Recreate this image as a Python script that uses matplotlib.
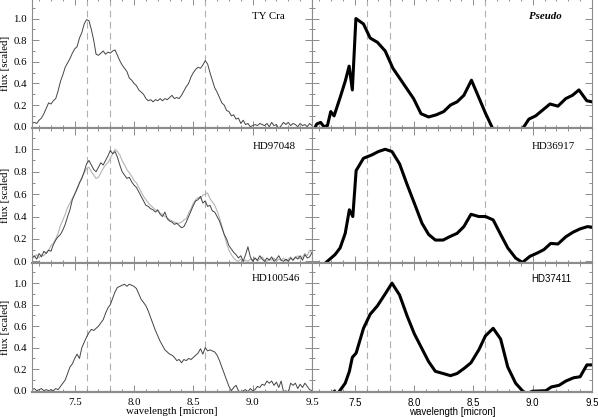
# six spectra panels: observed (left) vs pseudo/model (right)
import numpy as np
import matplotlib
matplotlib.use('agg')
import matplotlib.pyplot as plt
from matplotlib.ticker import MultipleLocator

# left column: observed spectra on a 0.02 micron grid starting at 7.14
x0_left = 7.14
dx_left = 0.02

tycra = [0.03, 0.04, 0.03, 0.06, 0.08, 0.12, 0.17, 0.22, 0.21, 0.24,
         0.26, 0.33, 0.42, 0.48, 0.55, 0.59, 0.63, 0.68, 0.72, 0.74,
         0.82, 0.87, 0.95, 0.99, 0.98, 0.90, 0.80, 0.67, 0.66, 0.68,
         0.70, 0.67, 0.69, 0.68, 0.70, 0.71, 0.66, 0.61, 0.57, 0.54,
         0.51, 0.45, 0.43, 0.40, 0.38, 0.34, 0.32, 0.30, 0.26, 0.24,
         0.25, 0.23, 0.25, 0.24, 0.26, 0.24, 0.26, 0.25, 0.27, 0.29,
         0.26, 0.27, 0.26, 0.29, 0.33, 0.37, 0.40, 0.46, 0.50, 0.53,
         0.55, 0.54, 0.57, 0.61, 0.58, 0.50, 0.43, 0.36, 0.32, 0.27,
         0.22, 0.20, 0.15, 0.14, 0.10, 0.11, 0.07, 0.08, 0.03, 0.06,
         0.02, 0.03, 0.00, 0.01, 0.02, 0.01, 0.03, 0.02, 0.01, 0.03,
         0.00, 0.04, 0.01, 0.02, -0.02, 0.01, 0.04, 0.02, 0.04, 0.01,
         0.03, 0.02, 0.00, 0.03, 0.01, 0.02, 0.00, 0.03, 0.01]

hd97048 = [0.03, 0.05, 0.02, 0.07, 0.04, 0.09, 0.07, 0.10, 0.09, 0.15,
           0.19, 0.22, 0.24, 0.28, 0.33, 0.40, 0.46, 0.55, 0.60, 0.65,
           0.70, 0.74, 0.80, 0.87, 0.90, 0.86, 0.82, 0.80, 0.84, 0.88,
           0.86, 0.90, 0.94, 0.99, 0.96, 0.98, 0.93, 0.86, 0.80, 0.77,
           0.74, 0.75, 0.71, 0.68, 0.66, 0.62, 0.58, 0.54, 0.50, 0.49,
           0.47, 0.46, 0.44, 0.46, 0.42, 0.40, 0.44, 0.38, 0.36, 0.35,
           0.33, 0.34, 0.32, 0.30, 0.31, 0.35, 0.40, 0.45, 0.50, 0.54,
           0.55, 0.58, 0.52, 0.54, 0.49, 0.50, 0.45, 0.44, 0.40, 0.36,
           0.30, 0.24, 0.20, 0.14, 0.11, 0.08, 0.06, 0.03, 0.05, 0.00,
           0.06, 0.13, 0.04, 0.00, 0.03, 0.01, 0.05, 0.02, 0.00, 0.03,
           0.01, 0.04, 0.00, 0.02, 0.05, 0.01, 0.00, 0.02, 0.00, 0.03,
           0.01, 0.04, 0.02, 0.05, 0.01, 0.06, 0.03, 0.04, 0.08]

hd97048_b = [0.02, 0.04, 0.06, 0.03, 0.06, 0.05, 0.08, 0.10, 0.14, 0.16,
             0.20, 0.25, 0.32, 0.37, 0.42, 0.48, 0.52, 0.56, 0.60, 0.64,
             0.70, 0.75, 0.79, 0.83, 0.84, 0.80, 0.77, 0.74, 0.75, 0.79,
             0.83, 0.86, 0.88, 0.92, 0.96, 1.00, 0.98, 0.95, 0.90, 0.86,
             0.82, 0.79, 0.76, 0.72, 0.70, 0.66, 0.62, 0.58, 0.55, 0.52,
             0.50, 0.48, 0.46, 0.45, 0.43, 0.42, 0.40, 0.39, 0.37, 0.36,
             0.35, 0.34, 0.34, 0.35, 0.37, 0.38, 0.43, 0.47, 0.52, 0.55,
             0.57, 0.56, 0.59, 0.60, 0.61, 0.56, 0.53, 0.50, 0.45, 0.39,
             0.32, 0.24, 0.16, 0.10, 0.06, 0.03, 0.01, 0.00, 0.02, 0.00,
             0.01, 0.00, 0.02, 0.01, 0.03, 0.00, 0.02, 0.04, 0.01, 0.00,
             0.02, 0.01, 0.03, 0.00, 0.02, 0.01, 0.03, 0.00, 0.02, 0.04,
             0.01, 0.03, 0.05, 0.02, 0.04, 0.07, 0.05, 0.10, 0.07]

hd100546 = [0.01, 0.02, 0.00, 0.01, 0.02, 0.00, 0.01, 0.00, 0.01, 0.00,
            0.02, 0.01, 0.04, 0.07, 0.10, 0.16, 0.22, 0.25, 0.30, 0.34,
            0.30, 0.40, 0.45, 0.50, 0.54, 0.57, 0.56, 0.58, 0.60, 0.63,
            0.66, 0.72, 0.77, 0.80, 0.86, 0.92, 0.96, 0.97, 0.98, 0.99,
            0.97, 0.99, 0.98, 0.97, 0.95, 0.90, 0.85, 0.82, 0.79, 0.74,
            0.68, 0.62, 0.56, 0.51, 0.46, 0.42, 0.38, 0.36, 0.34, 0.33,
            0.31, 0.28, 0.29, 0.26, 0.29, 0.28, 0.30, 0.29, 0.31, 0.33,
            0.35, 0.39, 0.34, 0.40, 0.37, 0.38, 0.37, 0.36, 0.33, 0.28,
            0.22, 0.16, 0.10, 0.04, 0.00, 0.03, 0.05, 0.00, -0.02, 0.00,
            0.01, -0.01, 0.02, 0.00, 0.01, 0.04, 0.03, 0.06, 0.05, 0.09,
            0.07, 0.09, 0.05, 0.08, 0.03, 0.09, -0.01, 0.00, -0.02, 0.07,
            0.05, 0.07, 0.02, 0.06, 0.03, 0.07, 0.04, 0.01, 0.00]

# right column: model spectra
wl_pseudo = [7.165, 7.18, 7.213, 7.24, 7.27, 7.298, 7.326, 7.377, 7.42, 7.453,
             7.48, 7.51, 7.574, 7.63, 7.692, 7.757, 7.822, 7.878, 7.94, 7.996,
             8.059, 8.123, 8.188, 8.25, 8.307, 8.363, 8.42, 8.484, 8.546, 8.602,
             8.66, 8.72, 8.86, 8.92, 8.968, 9.025, 9.08, 9.146, 9.213, 9.279,
             9.335, 9.39, 9.456, 9.5]
fl_pseudo = [-0.01, 0.025, 0.04, 0.0, 0.01, 0.14, 0.10, 0.27, 0.42, 0.56,
             0.34, 1.0, 0.95, 0.82, 0.78, 0.70, 0.54, 0.45, 0.35, 0.26,
             0.12, 0.09, 0.11, 0.14, 0.20, 0.23, 0.29, 0.43, 0.27, 0.125,
             -0.01, -0.15, -0.15, -0.01, 0.07, 0.10, 0.15, 0.21, 0.19, 0.26,
             0.29, 0.34, 0.24, 0.23]

wl_36917 = [7.258, 7.334, 7.377, 7.42, 7.455, 7.484, 7.512, 7.574, 7.645, 7.70,
            7.757, 7.814, 7.878, 7.94, 8.002, 8.067, 8.123, 8.18, 8.245, 8.30,
            8.363, 8.42, 8.48, 8.546, 8.602, 8.667, 8.73, 8.79, 8.856, 8.913,
            8.977, 9.04, 9.095, 9.152, 9.213, 9.28, 9.34, 9.40, 9.462, 9.5]
fl_36917 = [-0.01, 0.06, 0.12, 0.25, 0.46, 0.40, 0.81, 0.92, 0.95, 0.98,
            1.0, 0.98, 0.87, 0.69, 0.52, 0.34, 0.24, 0.19, 0.19, 0.22,
            0.25, 0.31, 0.42, 0.40, 0.40, 0.37, 0.24, 0.12, 0.03, -0.01,
            0.045, 0.075, 0.105, 0.16, 0.155, 0.22, 0.26, 0.29, 0.31, 0.305]

wl_37411 = [7.33, 7.35, 7.371, 7.42, 7.455, 7.48, 7.512, 7.574, 7.63, 7.692,
            7.757, 7.814, 7.878, 7.94, 8.002, 8.067, 8.123, 8.18, 8.245, 8.307,
            8.363, 8.425, 8.48, 8.546, 8.602, 8.667, 8.73, 8.79, 8.856, 8.913,
            8.95, 8.997, 9.11, 9.158, 9.222, 9.28, 9.344, 9.40, 9.457, 9.5]
fl_37411 = [-0.005, -0.04, -0.005, 0.07, 0.18, 0.31, 0.35, 0.58, 0.71, 0.79,
            0.90, 1.0, 0.89, 0.70, 0.53, 0.39, 0.27, 0.18, 0.16, 0.14,
            0.16, 0.21, 0.26, 0.38, 0.51, 0.58, 0.48, 0.22, 0.07, 0.0,
            -0.03, -0.005, 0.0, 0.035, 0.05, 0.09, 0.12, 0.13, 0.24, 0.24]

names_left = ['TY Cra', 'HD97048', 'HD100546']
names_right = ['Pseudo', 'HD36917', 'HD37411']
feature_lines = [7.6, 7.8, 8.6]


def grid(vals):
    return x0_left + dx_left * np.arange(len(vals))


W, H = 598.0, 417.0
fig = plt.figure(figsize=(W / 100, H / 100), dpi=100)

# rows in pixels (top, bottom)
rows = [(-2, 128), (128, 262.7), (262.7, 392)]
cols = [(32, 312), (312, 592)]

gray = '#8c8c8c'
serif = ['Liberation Serif', 'DejaVu Serif']
sans = ['Liberation Sans', 'DejaVu Sans']
fs = 7.8    # serif text size
fs_s = 7.0  # sans text size

axes = {}
for r, (t, b) in enumerate(rows):
    for c, (l, rr) in enumerate(cols):
        ax = fig.add_axes([l / W, 1 - b / H, (rr - l) / W, (b - t) / H])
        ax.set_xlim(7.14, 9.5)
        ax.set_ylim(-0.012, 1.19)
        ax.xaxis.set_major_locator(MultipleLocator(0.5))
        ax.xaxis.set_minor_locator(MultipleLocator(0.1))
        ax.yaxis.set_major_locator(MultipleLocator(0.2))
        ax.yaxis.set_minor_locator(MultipleLocator(0.1))
        ax.tick_params(which='both', direction='in', top=True, right=True,
                       color=gray, labelsize=fs)
        ax.tick_params(which='major', length=5, width=0.7)
        ax.tick_params(which='minor', length=2.5, width=0.7)
        ax.tick_params(axis='x', pad=4)
        ax.tick_params(axis='y', pad=3.5)
        for s in ax.spines.values():
            s.set_color(gray)
            s.set_linewidth(0.8)
        ax.spines['bottom'].set_linewidth(1.6)
        for xv in feature_lines:
            ax.axvline(xv, color='#b0b0b0', lw=0.8, ls=(0, (6, 4)), zorder=0)
        if c == 1:
            ax.tick_params(labelleft=False)
        else:
            ax.set_yticks([0, 0.2, 0.4, 0.6, 0.8, 1.0])
            ax.set_ylabel('flux [scaled]', family=serif, fontsize=fs)
            ax.yaxis.set_label_coords(-0.079, 0.5)
            for lab in ax.get_yticklabels():
                lab.set_family(serif)
        if r < 2:
            ax.tick_params(labelbottom=False)
        axes[(r, c)] = ax

# left column
axes[(0, 0)].plot(grid(tycra), tycra, color='#444444', lw=0.7)
axes[(1, 0)].plot(grid(hd97048_b), hd97048_b, color='#b4b4b4', lw=0.8)
axes[(1, 0)].plot(grid(hd97048), hd97048, color='#444444', lw=0.7)
axes[(2, 0)].plot(grid(hd100546), hd100546, color='#444444', lw=0.7)

# right column
axes[(0, 1)].plot(wl_pseudo, fl_pseudo, color='black', lw=2.2)
axes[(1, 1)].plot(wl_36917, fl_36917, color='black', lw=2.2)
axes[(2, 1)].plot(wl_37411, fl_37411, color='black', lw=2.2)

# labels
axes[(0, 0)].text(0.904, 0.86, names_left[0], transform=axes[(0, 0)].transAxes,
                  ha='right', va='center', family=serif, fontsize=fs)
axes[(1, 0)].text(0.94, 0.866, names_left[1], transform=axes[(1, 0)].transAxes,
                  ha='right', va='center', family=serif, fontsize=fs)
axes[(2, 0)].text(0.957, 0.874, names_left[2], transform=axes[(2, 0)].transAxes,
                  ha='right', va='center', family=serif, fontsize=fs)
axes[(0, 1)].text(0.892, 0.86, names_right[0], transform=axes[(0, 1)].transAxes,
                  ha='right', va='center', family=serif, fontsize=fs,
                  style='italic', weight='bold')
axes[(1, 1)].text(0.94, 0.866, names_right[1], transform=axes[(1, 1)].transAxes,
                  ha='right', va='center', family=serif, fontsize=fs)
axes[(2, 1)].text(0.927, 0.874, names_right[2], transform=axes[(2, 1)].transAxes,
                  ha='right', va='center', family=sans, fontsize=fs_s)

# bottom x labels
axl = axes[(2, 0)]
axl.set_xlabel('wavelength [micron]', family=serif, fontsize=fs)
axl.xaxis.set_label_coords(0.5, -0.115)
for lab in axl.get_xticklabels():
    lab.set_family(serif)
axr = axes[(2, 1)]
axr.set_xlabel('wavelength [micron]', family=sans, fontsize=fs_s)
axr.xaxis.set_label_coords(0.5, -0.115)
for lab in axr.get_xticklabels():
    lab.set_family(sans)
    lab.set_fontsize(fs_s)

fig.savefig('out.png', dpi=100)
